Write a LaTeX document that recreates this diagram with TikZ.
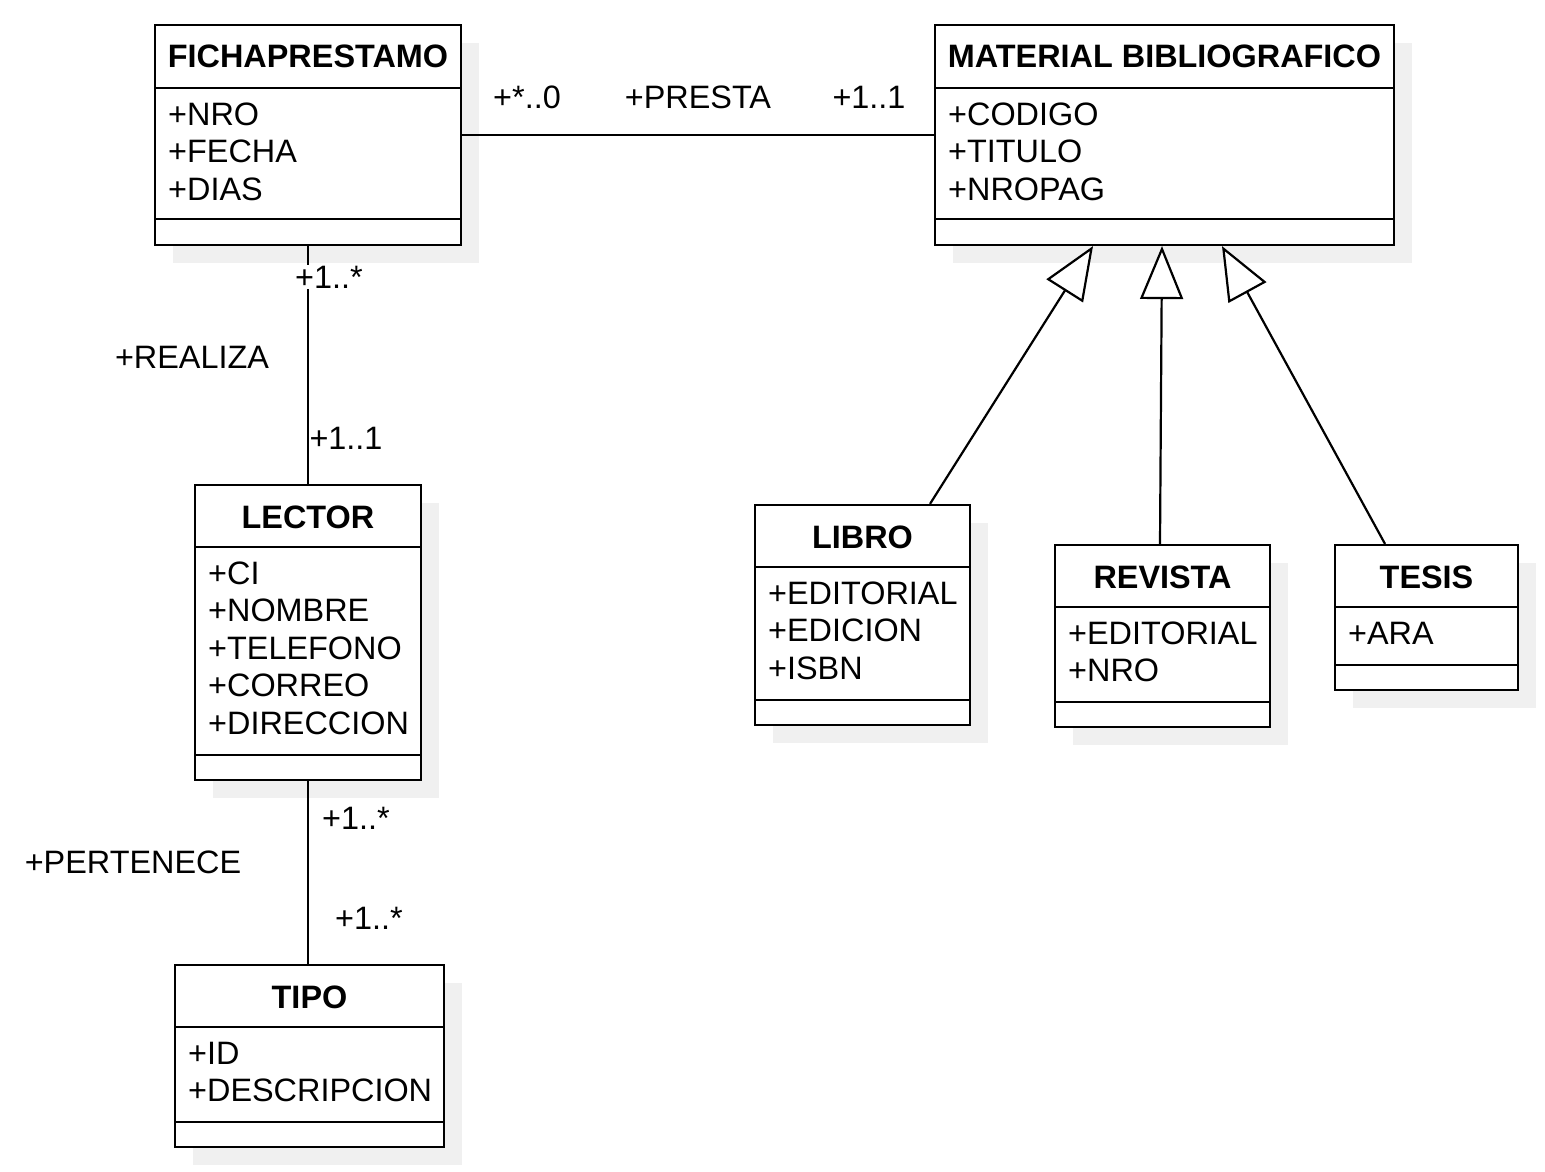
\documentclass[tikz,border=0pt]{standalone}
\usepackage{fontspec}
\setmainfont{Liberation Sans}
\usetikzlibrary{arrows.meta,fit}
\definecolor{shadowc}{HTML}{F0F0F0}
\tikzset{
  lw/.style={line width=2.2pt},
  clsbox/.style={draw, lw, fill=white, inner sep=0pt},
  ttl/.style={font=\fontsize{32.4}{37}\selectfont\bfseries, anchor=base, inner sep=0pt},
  attr/.style={font=\fontsize{32.4}{37}\selectfont, anchor=base west, inner sep=0pt},
  lbl/.style={font=\fontsize{32.4}{36}\selectfont, fill=white, inner sep=1pt},
  conn/.style={lw},
  inh/.style={lw, -{Triangle[length=53pt,width=43pt,fill=white]}},
}
% name, left, top, right, bottom, header line, attr line, title, attrs
\newcommand{\UMLcls}[9]{%
  \fill[shadowc] ({#2+18},{#3+18}) rectangle ({#4+18},{#5+18});
  \node[clsbox, fit={(#2,#3)(#4,#5)}] (#1) {};
  \draw[lw] (#2,#6) -- (#4,#6);
  \draw[lw] (#2,#7) -- (#4,#7);
  \node[ttl] (#1-t) at ({(#2+#4)/2},{#3+43}) {#8};
  \foreach \a [count=\i] in {#9} {
    \node[attr] (#1-a\i) at ({#2+13},{#6+37+(\i-1)*37.5}) {\a};
  }
}
\begin{document}
\begin{tikzpicture}[x=1pt,y=-1pt]
\useasboundingbox (0,0) rectangle (1545,1172);
\UMLcls{ficha}{155}{25}{461}{245}{88}{219}{FICHAPRESTAMO}{+NRO,+FECHA,+DIAS}
\UMLcls{mat}{935}{25}{1394}{245}{88}{219}{MATERIAL BIBLIOGRAFICO}{+CODIGO,+TITULO,+NROPAG}
\UMLcls{lector}{195}{485}{421}{780}{547}{755}{LECTOR}{+CI,+NOMBRE,+TELEFONO,+CORREO,+DIRECCION}
\UMLcls{tipo}{175}{965}{444}{1147}{1027}{1122}{TIPO}{+ID,+DESCRIPCION}
\UMLcls{libro}{755}{505}{970}{725}{567}{700}{LIBRO}{+EDITORIAL,+EDICION,+ISBN}
\UMLcls{revista}{1055}{545}{1270}{727}{607}{702}{REVISTA}{+EDITORIAL,+NRO}
\UMLcls{tesis}{1335}{545}{1518}{690}{607}{665}{TESIS}{+ARA}

% associations
\draw[conn] (ficha) -- (mat);
\node[lbl] (l1) at (527,97) {+*..0};
\node[lbl] (l2) at (698,97) {+PRESTA};
\node[lbl] (l3) at (869,97) {+1..1};

\draw[conn] (ficha) -- (lector);
\node[lbl] (l4) at (329,277) {+1..*};
\node[lbl] (l5) at (192,357) {+REALIZA};
\node[lbl] (l6) at (346,438) {+1..1};

\draw[conn] (lector.south) -- (lector.south |- tipo.north);
\node[lbl] (l7) at (356,818) {+1..*};
\node[lbl] (l8) at (133,862) {+PERTENECE};
\node[lbl] (l9) at (369,918) {+1..*};

% generalizations
\draw[inh] ([xshift=67.5pt]libro.north) -- ([xshift=-71.5pt]mat.south);
\draw[inh] ([xshift=-2.5pt]revista.north) -- ([xshift=-2.5pt]mat.south);
\draw[inh] ([xshift=-41.5pt]tesis.north) -- ([xshift=57.5pt]mat.south);
\end{tikzpicture}
\end{document}
